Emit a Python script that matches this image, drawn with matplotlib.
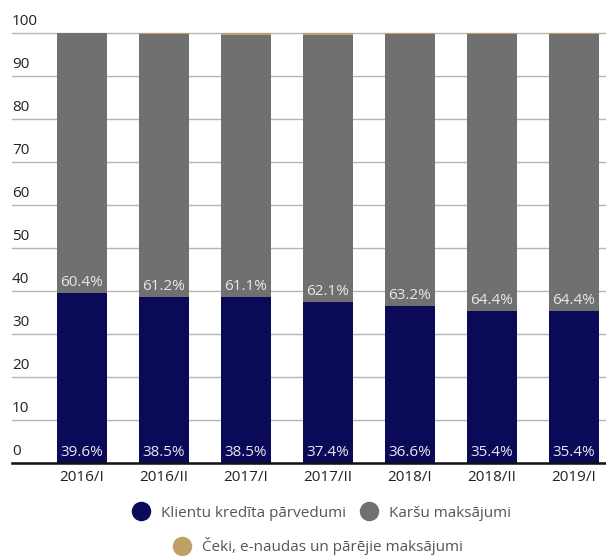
import matplotlib.pyplot as plt
from matplotlib.lines import Line2D
import numpy as np

plt.rcParams['font.family'] = ['Open Sans', 'DejaVu Sans']

# ========== 数据 ==========
periods = ['2016/I', '2016/II', '2017/I', '2017/II', '2018/I', '2018/II', '2019/I']
credit_transfers = [39.6, 38.5, 38.5, 37.4, 36.6, 35.4, 35.4]
card_payments = [60.4, 61.2, 61.1, 62.1, 63.2, 64.4, 64.4]
other_payments = [0.0, 0.3, 0.4, 0.5, 0.2, 0.2, 0.2]
series_names = ['Klientu kredīta pārvedumi', 'Karšu maksājumi',
                'Čeki, e-naudas un pārējie maksājumi']
colors = ['#0a0a58', '#707070', '#bf9f63']
yticks = [0, 10, 20, 30, 40, 50, 60, 70, 80, 90, 100]

fig = plt.figure(figsize=(6.06, 5.56), dpi=100)
ax = fig.add_axes([12 / 606, 93 / 556, 594 / 606, 430 / 556])

x = np.arange(len(periods))
w = 0.61
bottom2 = np.array(credit_transfers)
bottom3 = bottom2 + np.array(card_payments)
ax.bar(x, credit_transfers, w, color=colors[0], zorder=2)
ax.bar(x, card_payments, w, bottom=bottom2, color=colors[1], zorder=2)
ax.bar(x, other_payments, w, bottom=bottom3, color=colors[2], zorder=2)

# 百分比标签
for i in range(len(periods)):
    ax.text(x[i], 0.7, f'{credit_transfers[i]:.1f}%', ha='center', va='bottom',
            color='#e8e8f0', fontsize=11, zorder=3)
    ax.text(x[i], bottom2[i] + 0.7, f'{card_payments[i]:.1f}%', ha='center',
            va='bottom', color='#e8e8e8', fontsize=11, zorder=3)

# 网格线与刻度
for v in yticks:
    ax.axhline(v, color='#b4b4b4', linewidth=1, zorder=1, clip_on=False)
    ax.text(0.0, v + 1.0, str(v), transform=ax.get_yaxis_transform(),
            ha='left', va='bottom', fontsize=11, color='#222222')
ax.axhline(0, color='#111111', linewidth=1.8, zorder=4, clip_on=False)

ax.set_xlim(-0.85, 6.39)
ax.set_ylim(0, 100)
ax.set_yticks([])
ax.set_xticks(x)
ax.set_xticklabels(periods, fontsize=11, color='#222222')
ax.tick_params(axis='x', length=0, pad=5)
for s in ax.spines.values():
    s.set_visible(False)

# 图例
handles = [Line2D([], [], marker='o', linestyle='', markersize=13,
                  color=c) for c in colors]
fig.legend(handles[:2], series_names[:2], ncol=2, loc='center',
           bbox_to_anchor=(0.525, 0.077), frameon=False, fontsize=11,
           handletextpad=0.3, columnspacing=0.5, labelcolor='#555555')
fig.legend(handles[2:], series_names[2:], loc='center',
           bbox_to_anchor=(0.52, 0.018), frameon=False, fontsize=11,
           handletextpad=0.3, labelcolor='#555555')

fig.savefig('out.png', dpi=100)
plt.close()
